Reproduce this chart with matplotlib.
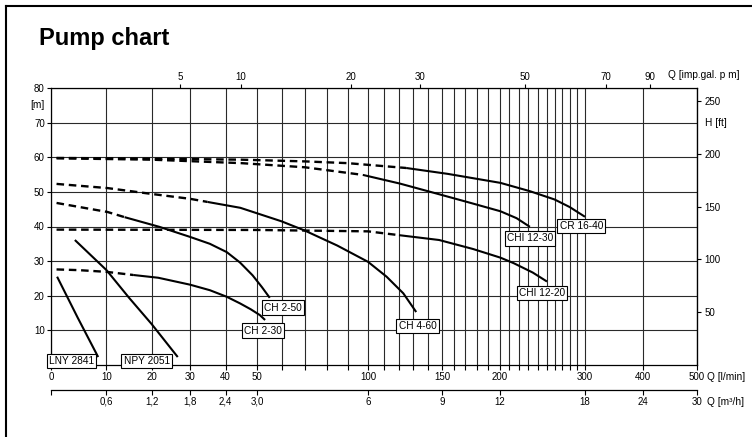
import numpy as np
import matplotlib.pyplot as plt
from matplotlib.lines import Line2D

plt.rcParams['font.family'] = 'Liberation Sans'

# Kennlinien: Q in l/min, H in m -----------------------------------------------------------------------
lny_q = [1.1, 4.8, 8.5]
lny_h = [25.5, 13.7, 2.3]

npy_q = [4.3, 10, 15, 20, 26.8]
npy_h = [36.1, 27.4, 19.4, 11.8, 2.3]

ch230_dash_q = [1, 5, 10, 15.9]
ch230_dash_h = [27.6, 27.4, 26.9, 26.0]
ch230_q = [15.9, 21.7, 30, 35.6, 40.4, 44.6, 48, 51.2, 53.3]
ch230_h = [26.0, 25.2, 23.2, 21.6, 19.7, 17.8, 16.1, 14.4, 13.0]

ch250_dash_q = [1, 10.2, 14]
ch250_dash_h = [46.8, 44.2, 42.7]
ch250_q = [14, 22, 30, 35.6, 40.4, 44.6, 48.6, 52, 55.2]
ch250_h = [42.7, 39.9, 37.0, 35.0, 32.6, 29.6, 25.9, 22.5, 19.4]

ch460_dash_q = [1, 10.2, 20, 30, 34.9]
ch460_dash_h = [52.3, 51.1, 49.4, 48.0, 47.1]
ch460_q = [34.9, 44.7, 60, 70, 85, 100, 112, 123, 132]
ch460_h = [47.1, 45.4, 41.5, 38.8, 34.5, 29.8, 25.5, 20.7, 15.3]

chi1220_dash_q = [1, 50, 100, 120]
chi1220_dash_h = [39.1, 39.0, 38.6, 37.5]
chi1220_q = [120, 148, 177, 201, 215, 235, 250]
chi1220_h = [37.5, 36.1, 33.5, 31.0, 29.4, 26.7, 24.1]

chi1230_dash_q = [1, 20, 45, 70, 97.5]
chi1230_dash_h = [59.7, 59.3, 58.3, 57.1, 54.9]
chi1230_q = [97.5, 120.6, 149, 175, 201, 218, 232]
chi1230_h = [54.9, 52.4, 49.2, 46.8, 44.4, 42.4, 39.9]

cr1640_dash_q = [1, 20, 45, 70, 90, 125]
cr1640_dash_h = [59.8, 59.6, 59.3, 58.8, 58.3, 56.9]
cr1640_q = [125, 155, 201, 232, 260, 280, 300]
cr1640_h = [56.9, 55.2, 52.6, 50.2, 47.8, 45.6, 42.8]

# Beschriftungen der Kennlinien
labels = ['LNY 2841', 'NPY 2051', 'CH 2-30', 'CH 2-50', 'CH 4-60', 'CHI 12-20', 'CHI 12-30', 'CR 16-40']
lab_q = [3.7, 18.9, 52.4, 60.5, 132.9, 244.9, 232.1, 295.1]
lab_h = [1.2, 1.2, 9.9, 16.6, 11.3, 20.8, 36.6, 40.1]

# Achsenbeschriftungen
q_major = [0, 10, 20, 30, 40, 50, 100, 150, 200, 300, 400, 500]
q_grid = [60, 70, 80, 90] + list(range(110, 300, 10))
m3_ticks = [0.6, 1.2, 1.8, 2.4, 3.0, 6, 9, 12, 18, 24, 30]
m3_labels = ['0,6', '1,2', '1,8', '2,4', '3,0', '6', '9', '12', '18', '24', '30']
gal_labels = ['5', '10', '20', '30', '50', '70', '90']
gal_at_lmin = [27.4, 44.8, 91.7, 134.7, 226.8, 336, 413]   # Lage der Striche im Original
ft_ticks = [50, 100, 150, 200, 250]

# nichtlineare Q-Teilung des Originalblatts ------------------------------------------------------------
scale_q = [0, 10, 20, 30, 40, 50, 60, 70, 80, 90, 100, 120, 150, 200, 250, 300, 400, 500]
scale_p = [51, 106.5, 151.7, 190, 225.5, 257, 281.5, 305, 327, 347.5, 368, 399, 442, 499.5, 547, 585, 643, 697]
scale_q_ext = [-1e5] + scale_q + [1e5]
scale_p_ext = [51 - 5.55e5] + scale_p + [697 + 0.54 * (1e5 - 500)]


def fwd(q):
    return np.interp(q, scale_q_ext, scale_p_ext)


def inv(p):
    return np.interp(p, scale_p_ext, scale_q_ext)


fig = plt.figure(figsize=(7.52, 4.37), dpi=100)
rect = [51 / 752, (437 - 365) / 437, 646 / 752, 277 / 437]
ax = fig.add_axes(rect)
ax.set_xscale('function', functions=(fwd, inv))
ax.set_xlim(0, 500)
ax.set_ylim(0, 80)

grid_kw = dict(color='#2a2a2a', lw=0.8)
ax.set_xticks(q_major, [str(v) for v in q_major])
ax.set_xticks(q_grid, minor=True)
ax.set_yticks(range(10, 90, 10), [str(v) for v in range(10, 90, 10)])
ax.grid(which='both', axis='x', **grid_kw)
ax.grid(which='major', axis='y', **grid_kw)
ax.tick_params(axis='x', which='both', direction='out', length=3.8, width=0.8, pad=1.5, labelsize=7)
ax.tick_params(axis='y', direction='out', length=3, width=0.8, pad=1.5, labelsize=7)
for s in ax.spines.values():
    s.set_linewidth(0.9)

# Kennlinien zeichnen
dash = dict(color='black', lw=1.7, linestyle=(0, (3.2, 2.0)), zorder=3)
solid = dict(color='black', lw=1.5, zorder=3, solid_capstyle='butt', solid_joinstyle='round')
ax.plot(lny_q, lny_h, **solid)
ax.plot(npy_q, npy_h, **solid)
for dq, dh, sq, sh in [(ch230_dash_q, ch230_dash_h, ch230_q, ch230_h),
                       (ch250_dash_q, ch250_dash_h, ch250_q, ch250_h),
                       (ch460_dash_q, ch460_dash_h, ch460_q, ch460_h),
                       (chi1220_dash_q, chi1220_dash_h, chi1220_q, chi1220_h),
                       (chi1230_dash_q, chi1230_dash_h, chi1230_q, chi1230_h),
                       (cr1640_dash_q, cr1640_dash_h, cr1640_q, cr1640_h)]:
    ax.plot(dq, dh, **dash)
    ax.plot(sq, sh, **solid)

for txt, q, h in zip(labels, lab_q, lab_h):
    ax.text(q, h, txt, fontsize=7.3, ha='center', va='center', zorder=6, clip_on=False,
            bbox=dict(boxstyle='square,pad=0.22', fc='white', ec='black', lw=0.8))

# rechte Achse H [ft]
ax_ft = ax.secondary_yaxis('right', functions=(lambda m: m * 3.2808, lambda f: f / 3.2808))
ax_ft.set_yticks(ft_ticks, [str(v) for v in ft_ticks])
ax_ft.tick_params(direction='out', length=3, width=0.8, pad=2.5, labelsize=7)

# obere Achse Q [imp.gal. p m]
ax_top = fig.add_axes(rect, label='gal')
ax_top.set_xscale('function', functions=(fwd, inv))
ax_top.set_xlim(0, 500)
ax_top.patch.set_visible(False)
for s in ax_top.spines.values():
    s.set_visible(False)
ax_top.yaxis.set_visible(False)
ax_top.xaxis.tick_top()
ax_top.set_xticks(gal_at_lmin, gal_labels)
ax_top.xaxis.set_minor_locator(plt.NullLocator())
ax_top.tick_params(direction='out', length=3, width=0.8, pad=1.5, labelsize=7)

# untere Achse Q [m3/h]
ax_m3 = fig.add_axes(rect, label='m3')
ax_m3.set_xscale('function', functions=(fwd, inv))
ax_m3.set_xlim(0, 500)
ax_m3.patch.set_visible(False)
for s in ['top', 'left', 'right']:
    ax_m3.spines[s].set_visible(False)
ax_m3.spines['bottom'].set_position(('outward', 18))
ax_m3.spines['bottom'].set_linewidth(0.9)
ax_m3.yaxis.set_visible(False)
ax_m3.set_xticks([0] + [m / 0.06 for m in m3_ticks], [''] + m3_labels)
ax_m3.xaxis.set_minor_locator(plt.NullLocator())
ax_m3.tick_params(direction='out', length=3.5, width=0.8, pad=1.5, labelsize=7)

# Einheiten
ax.annotate('Q [l/min]', xy=(1, 0), xycoords='axes fraction', xytext=(7, -8.6),
            textcoords='offset points', ha='left', va='center', fontsize=7.3, annotation_clip=False)
ax.annotate('Q [m³/h]', xy=(1, 0), xycoords='axes fraction', xytext=(7, -26.5),
            textcoords='offset points', ha='left', va='center', fontsize=7.3, annotation_clip=False)
ax.annotate('Q [imp.gal. p m]', xy=(1, 1), xycoords='axes fraction', xytext=(-21, 9.4),
            textcoords='offset points', ha='left', va='center', fontsize=7.3, annotation_clip=False)
ax.annotate('H [ft]', xy=(1, 70), xycoords=ax.get_yaxis_transform(), xytext=(5.5, 0),
            textcoords='offset points', ha='left', va='center', fontsize=7.3, annotation_clip=False)
ax.annotate('[m]', xy=(0, 80), xycoords=ax.get_yaxis_transform(), xytext=(-5, -12),
            textcoords='offset points', ha='right', va='center', fontsize=7.3, annotation_clip=False)

# Titel und Rahmen
fig.text(39 / 752, 1 - 45 / 437, 'Pump chart', fontsize=17, fontweight='bold', va='baseline')
fig.add_artist(Line2D([6 / 752, 6 / 752], [0, 1 - 6 / 437], color='black', lw=1.5))
fig.add_artist(Line2D([6 / 752, 1], [1 - 6 / 437, 1 - 6 / 437], color='black', lw=1.5))

fig.savefig('out.png', dpi=100)
